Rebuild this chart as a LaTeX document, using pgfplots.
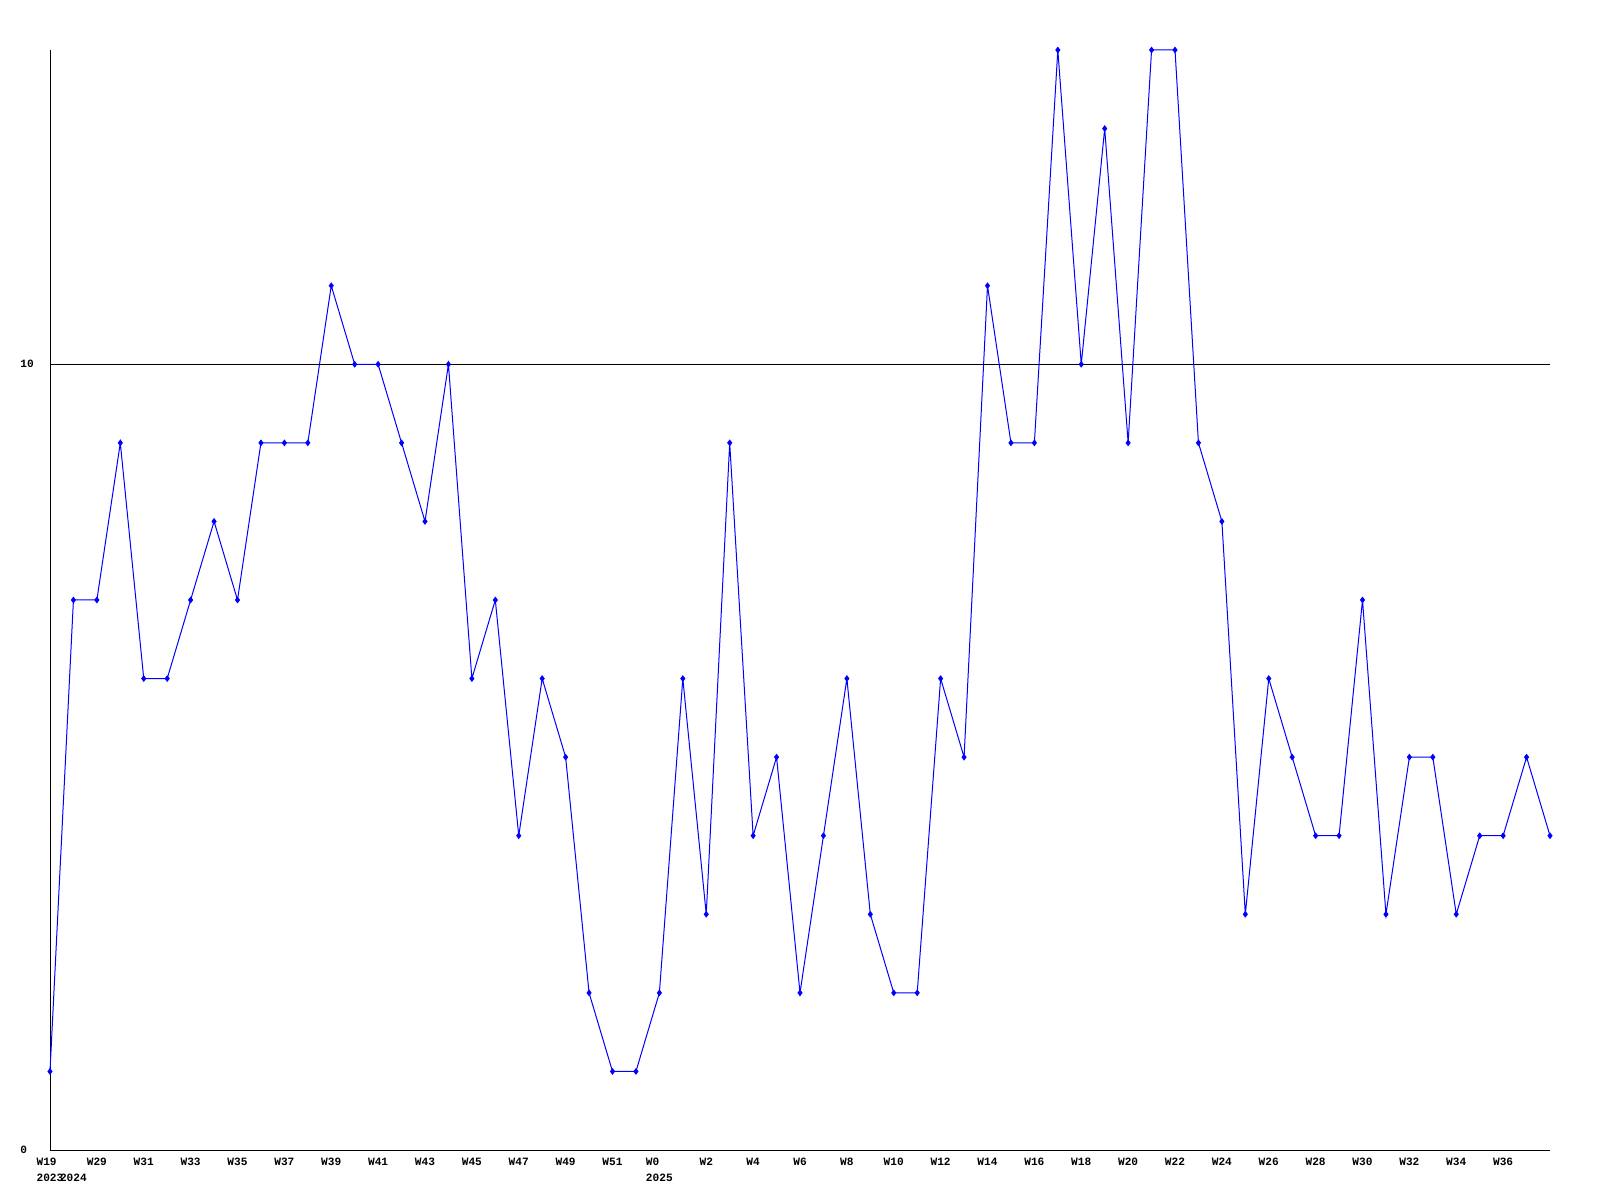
\documentclass[border=0pt]{standalone}
\usepackage{pgfplots}
\pgfplotsset{compat=1.18}
\usepackage{fontspec}
\setmonofont{Liberation Mono}
\begin{document}
\begin{tikzpicture}
\begin{axis}[
  scale only axis, width=750bp, height=550bp,
  xmin=0, xmax=64, ymin=0, ymax=14,
  axis x line*=bottom, axis y line*=left,
  axis line style={black, line width=0.5bp, -},
  major tick length=0pt,
  ytick={0,10}, yticklabels={0,10},
  ymajorgrids, grid style={black, line width=0.5bp},
  xtick={0,1,2,4,6,8,10,12,14,16,18,20,22,24,26,28,30,32,34,36,38,40,42,44,46,48,50,52,54,56,58,60,62},
  xticklabels={{W19\\2023},{\phantom{W29}\\2024},W29,W31,W33,W35,W37,W39,W41,W43,W45,W47,W49,W51,{W0\\2025},W2,W4,W6,W8,W10,W12,W14,W16,W18,W20,W22,W24,W26,W28,W30,W32,W34,W36},
  xticklabel style={font=\ttfamily\bfseries\fontsize{5.6}{8}\selectfont, align=left, anchor=north, inner sep=0pt, yshift=-4bp},
  yticklabel style={font=\ttfamily\bfseries\fontsize{5.6}{8}\selectfont, anchor=west, inner sep=0pt, xshift=-15bp},
  clip=false,
]
\path[use as bounding box] (rel axis cs:0,0) ++(-25bp,-25bp) rectangle ([xshift=25bp,yshift=25bp]rel axis cs:1,1);
\addplot[blue, line width=0.5bp, mark=diamond*, mark size=1.3bp] coordinates {
(0,1) (1,7) (2,7) (3,9) (4,6) (5,6) (6,7) (7,8) (8,7) (9,9)
(10,9) (11,9) (12,11) (13,10) (14,10) (15,9) (16,8) (17,10) (18,6) (19,7)
(20,4) (21,6) (22,5) (23,2) (24,1) (25,1) (26,2) (27,6) (28,3) (29,9)
(30,4) (31,5) (32,2) (33,4) (34,6) (35,3) (36,2) (37,2) (38,6) (39,5)
(40,11) (41,9) (42,9) (43,14) (44,10) (45,13) (46,9) (47,14) (48,14) (49,9)
(50,8) (51,3) (52,6) (53,5) (54,4) (55,4) (56,7) (57,3) (58,5) (59,5)
(60,3) (61,4) (62,4) (63,5) (64,4)
};
\end{axis}
\end{tikzpicture}
\end{document}
